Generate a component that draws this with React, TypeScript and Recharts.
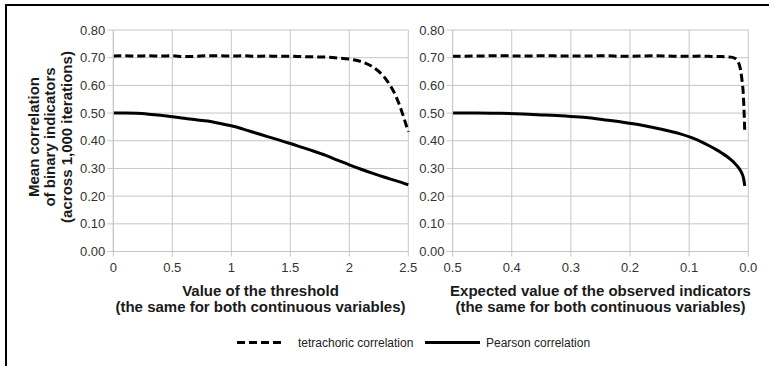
import React from "react";
import { LineChart, Line, XAxis, YAxis, CartesianGrid } from "recharts";

// threshold (left panel) and the matching expected value (right panel)
const thresholds = [
  0, 0.1, 0.2, 0.3, 0.4, 0.5, 0.6, 0.7, 0.8, 0.9, 1.0, 1.1, 1.2, 1.3, 1.4, 1.5,
  1.6, 1.7, 1.8, 1.9, 2.0, 2.1, 2.2, 2.3, 2.4, 2.5,
];
const expectedValues = [
  0.5, 0.46, 0.421, 0.382, 0.345, 0.309, 0.274, 0.242, 0.212, 0.184, 0.159,
  0.136, 0.115, 0.097, 0.081, 0.067, 0.055, 0.045, 0.036, 0.029, 0.023, 0.018,
  0.014, 0.011, 0.008, 0.006,
];

const tetrachoricLeft = [
  0.706, 0.707, 0.706, 0.707, 0.706, 0.707, 0.704, 0.705, 0.707, 0.707, 0.706,
  0.707, 0.705, 0.706, 0.705, 0.705, 0.704, 0.703, 0.702, 0.699, 0.695, 0.686,
  0.666, 0.628, 0.556, 0.432,
];
const pearsonLeft = [
  0.5, 0.5, 0.499, 0.496, 0.492, 0.487, 0.481, 0.476, 0.471, 0.463, 0.454,
  0.442, 0.429, 0.416, 0.403, 0.39, 0.376, 0.362, 0.347, 0.33, 0.313, 0.297,
  0.282, 0.268, 0.255, 0.241,
];

const tetrachoricRight = [
  0.705, 0.706, 0.707, 0.706, 0.707, 0.706, 0.706, 0.707, 0.705, 0.706, 0.707,
  0.706, 0.705, 0.705, 0.706, 0.705, 0.704, 0.704, 0.703, 0.702, 0.698, 0.688,
  0.665, 0.625, 0.55, 0.432,
];
const pearsonRight = [
  0.5, 0.5, 0.499, 0.497, 0.493, 0.489, 0.484, 0.475, 0.467, 0.458, 0.447,
  0.436, 0.425, 0.412, 0.398, 0.383, 0.369, 0.356, 0.343, 0.331, 0.319, 0.307,
  0.295, 0.283, 0.264, 0.237,
];

const yTicks = [0, 0.1, 0.2, 0.3, 0.4, 0.5, 0.6, 0.7, 0.8];
const leftXTicks = [0, 0.5, 1, 1.5, 2, 2.5];
const rightXTicks = [0.5, 0.4, 0.3, 0.2, 0.1, 0];

const leftData = thresholds.map((x, i) => ({
  x,
  tetra: tetrachoricLeft[i],
  pearson: pearsonLeft[i],
}));
const rightData = expectedValues.map((x, i) => ({
  x,
  tetra: tetrachoricRight[i],
  pearson: pearsonRight[i],
}));

const FONT = "'Liberation Sans', Arial, sans-serif";
const GRID = "#c6c6c6";
const tickStyle = { fontSize: 13, fill: "#333", fontFamily: FONT };

function Panel({
  data,
  ticks,
  reversed,
  fmt,
  left,
  width,
  margin,
}: {
  data: any[];
  ticks: number[];
  reversed?: boolean;
  fmt: (v: number) => string;
  left: number;
  width: number;
  margin: any;
}) {
  return (
    <div style={{ position: "absolute", left, top: 0 }}>
      <LineChart width={width} height={366} data={data} margin={margin}>
        <CartesianGrid stroke={GRID} strokeWidth={1} />
        <XAxis
          dataKey="x"
          type="number"
          domain={[Math.min(...ticks), Math.max(...ticks)]}
          ticks={ticks}
          reversed={reversed}
          tickFormatter={fmt}
          height={30}
          stroke={GRID}
          tickSize={5}
          tickMargin={6}
          tick={tickStyle}
          interval={0}
        />
        <YAxis
          type="number"
          domain={[0, 0.8]}
          ticks={yTicks}
          tickFormatter={(v: number) => v.toFixed(2)}
          width={60}
          stroke={GRID}
          tickSize={6}
          tickMargin={2}
          tick={tickStyle}
          interval={0}
        />
        <Line
          dataKey="tetra"
          type="monotone"
          stroke="#000"
          strokeWidth={3}
          strokeDasharray="8 4"
          dot={false}
          isAnimationActive={false}
        />
        <Line
          dataKey="pearson"
          type="monotone"
          stroke="#000"
          strokeWidth={3}
          dot={false}
          isAnimationActive={false}
        />
      </LineChart>
    </div>
  );
}

export default function App() {
  const titleStyle = {
    fontSize: 15,
    fontWeight: 700,
    fill: "#1a1a1a",
    fontFamily: FONT,
  } as const;
  return (
    <div
      style={{
        position: "absolute",
        left: 0,
        top: 0,
        width: 769,
        height: 366,
        background: "#fff",
        overflow: "hidden",
      }}
    >
      <Panel
        data={leftData}
        ticks={leftXTicks}
        fmt={(v) => String(v)}
        left={0}
        width={425}
        margin={{ top: 30, left: 53.3, right: 16.7, bottom: 84.5 }}
      />
      <Panel
        data={rightData}
        ticks={rightXTicks}
        reversed
        fmt={(v) => v.toFixed(1)}
        left={340}
        width={429}
        margin={{ top: 30, left: 52.6, right: 20.7, bottom: 84.5 }}
      />
      <svg
        width={769}
        height={366}
        style={{ position: "absolute", left: 0, top: 0, pointerEvents: "none" }}
      >
        <text
          transform="translate(38.5,137) rotate(-90)"
          textAnchor="middle"
          style={titleStyle}
        >
          Mean correlation
        </text>
        <text
          transform="translate(55,137) rotate(-90)"
          textAnchor="middle"
          style={titleStyle}
        >
          of binary indicators
        </text>
        <text
          transform="translate(71.5,137) rotate(-90)"
          textAnchor="middle"
          style={titleStyle}
        >
          (across 1,000 iterations)
        </text>

        <text x={260.5} y={295.5} textAnchor="middle" style={titleStyle}>
          Value of the threshold
        </text>
        <text x={260.5} y={311.5} textAnchor="middle" style={titleStyle}>
          (the same for both continuous variables)
        </text>
        <text x={600.5} y={295.5} textAnchor="middle" style={titleStyle}>
          Expected value of the observed indicators
        </text>
        <text x={600.5} y={311.5} textAnchor="middle" style={titleStyle}>
          (the same for both continuous variables)
        </text>

        <line
          x1={237}
          y1={342.5}
          x2={284}
          y2={342.5}
          stroke="#000"
          strokeWidth={3}
          strokeDasharray="8 4"
        />
        <text x={298} y={346.5} style={{ fontSize: 12, fill: "#222", fontFamily: FONT }}>
          tetrachoric correlation
        </text>
        <line x1={425} y1={342.5} x2={480} y2={342.5} stroke="#000" strokeWidth={3} />
        <text x={486} y={346.5} style={{ fontSize: 12, fill: "#222", fontFamily: FONT }}>
          Pearson correlation
        </text>

        <line x1={5} y1={5} x2={769} y2={5} stroke="#000" strokeWidth={2} />
        <line x1={6} y1={4} x2={6} y2={366} stroke="#000" strokeWidth={2} />
      </svg>
    </div>
  );
}
